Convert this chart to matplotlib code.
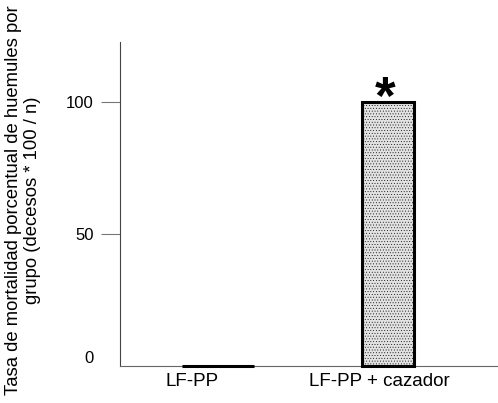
import numpy as np
import matplotlib.pyplot as plt

plt.rcParams['font.family'] = ['Liberation Sans', 'DejaVu Sans']
plt.rcParams['hatch.color'] = "#bdbdbd"
plt.rcParams['hatch.linewidth'] = 0.3

# datos
grupos = ["LF-PP", "LF-PP + cazador"]
mortalidad = [0, 100]
signif = ["", "*"]
yticks = [0, 50, 100]

x = np.arange(len(grupos))
anchos = [0.42, 0.31]

fig = plt.figure(figsize=(4.98, 4.03), dpi=100)
ax = fig.add_axes([0.241, 0.092, 0.759, 0.804])

bars = ax.bar(x, mortalidad, width=anchos, color="#e2e2e2",
              edgecolor="black", linewidth=2.2, zorder=3, clip_on=False)
for b in bars:
    b.set_hatch("......")

for xi, v, s in zip(x, mortalidad, signif):
    if s:
        ax.annotate(s, (xi, v), xytext=(-2, -8), textcoords="offset points",
                    ha="center", va="baseline", fontsize=38, fontweight="bold")

ax.set_xlim(-0.576, 1.647)
ax.set_ylim(0, 123)

ax.set_yticks(yticks)
ax.set_yticklabels([str(t) for t in yticks])
ax.tick_params(axis="y", length=14, width=0.8, color="#777777", pad=5,
               labelsize=12)
ax.yaxis.get_major_ticks()[0].tick1line.set_visible(False)
ax.get_yticklabels()[0].set_va("bottom")

ax.set_xticks(x + np.array([-0.15, -0.05]))
ax.set_xticklabels(grupos, fontsize=13.5)
ax.tick_params(axis="x", length=0, pad=5)

ax.spines["top"].set_visible(False)
ax.spines["right"].set_visible(False)
ax.spines["left"].set_color("#444444")
ax.spines["bottom"].set_color("#666666")
ax.spines["left"].set_linewidth(0.8)
ax.spines["bottom"].set_linewidth(0.8)

ax.set_ylabel("Tasa de mortalidad porcentual de huemules por\ngrupo (decesos * 100 / n)",
              fontsize=13.3, linespacing=1.12)
ax.yaxis.set_label_coords(-0.21, 0.512)

fig.savefig("out.png", dpi=100)
